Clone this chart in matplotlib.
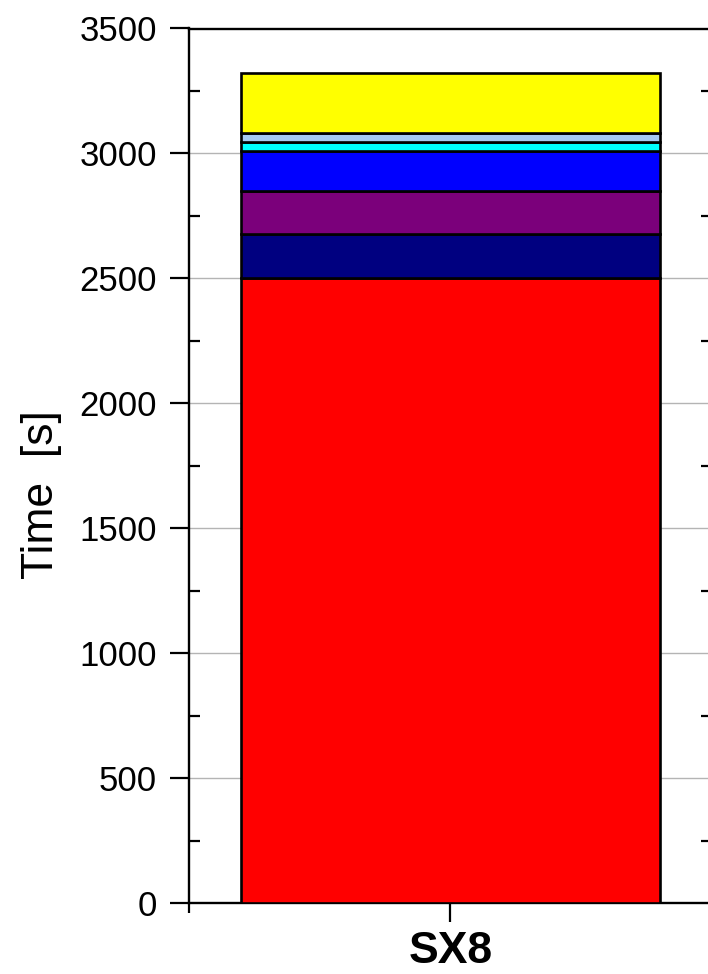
import matplotlib
matplotlib.use("Agg")
import matplotlib.pyplot as plt
import numpy as np

# stacked time components for the single sample
category = "SX8"
seg_values = [2500, 179, 169, 163, 36, 35, 240]
seg_colors = ["#FF0000", "#000080", "#7B007B", "#0000FF", "#00FFFF", "#A6CAF0", "#FFFF00"]
y_ticks = [0, 500, 1000, 1500, 2000, 2500, 3000, 3500]

plt.rcParams['font.family'] = ['Liberation Sans', 'DejaVu Sans']

fig = plt.figure(figsize=(7.08, 9.74), dpi=100)
ax = fig.add_axes([188.7 / 708, 71 / 974, (712 - 188.7) / 708, (903 - 28.5) / 974])

bottom = 0
for val, col in zip(seg_values, seg_colors):
    ax.bar(0, val, width=0.8, bottom=bottom, color=col, edgecolor="black", linewidth=1.9, zorder=3)
    bottom += val

ax.set_xlim(-0.5, 0.5)
ax.set_ylim(0, 3500)
ax.set_yticks(y_ticks)
ax.set_yticks(np.arange(250, 3500, 500), minor=True)
ax.set_xticks([0])
ax.set_xticklabels([category], fontsize=32, fontweight="bold")
ax.set_xticks([-0.5, 0.5], minor=True)

ax.grid(axis="y", which="major", color="#b4b4b4", linewidth=1.0, zorder=0)
ax.set_axisbelow(True)

for s in ax.spines.values():
    s.set_linewidth(1.7)

ax.tick_params(axis="y", which="major", direction="out", length=13.7, width=1.6,
               labelsize=25, pad=9)
ax.tick_params(axis="y", which="minor", direction="out", length=8, width=1.6)
ax.tick_params(axis="y", which="minor", right=True, direction="in")
ax.tick_params(axis="x", which="major", direction="out", length=14, width=1.6, pad=6)
ax.tick_params(axis="x", which="minor", direction="out", length=7.5, width=1.6)

ax.set_ylabel("Time  [s]", fontsize=32)
ax.yaxis.set_label_coords(-0.243, 0.4666)

fig.savefig("out.png", dpi=100)
